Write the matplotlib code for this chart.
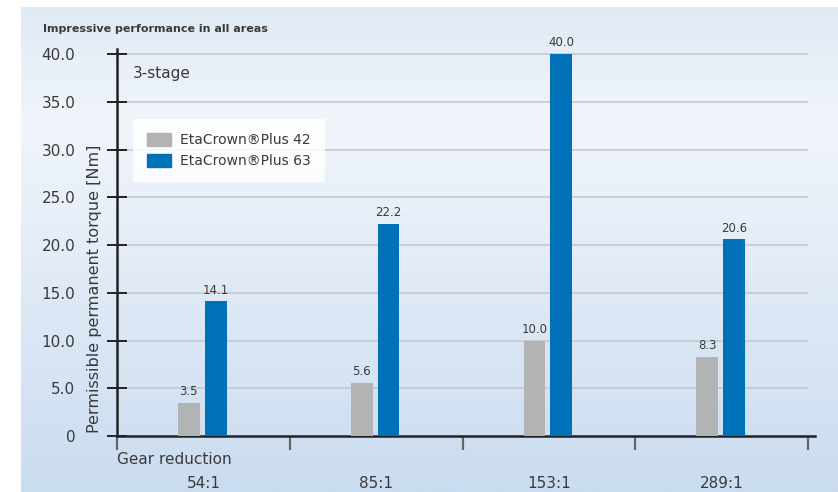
import numpy as np
import matplotlib
matplotlib.use("Agg")
import matplotlib.pyplot as plt
from matplotlib.colors import LinearSegmentedColormap
from matplotlib.patches import Patch

ratios = ["54:1", "85:1", "153:1", "289:1"]
plus42 = [3.5, 5.6, 10.0, 8.3]
plus63 = [14.1, 22.2, 40.0, 20.6]
series_names = ["EtaCrown\u00aePlus 42", "EtaCrown\u00aePlus 63"]
y_ticks = [0, 5, 10, 15, 20, 25, 30, 35, 40]

GRAY = "#b2b3b5"
BLUE = "#0071b9"
TEXT = "#3a3a3a"

plt.rcParams["font.family"] = ["DejaVu Sans"]

fig = plt.figure(figsize=(8.38, 4.92), dpi=100)

# soft blue panel behind the chart
bg = fig.add_axes([21 / 838, 0, 1 - 21 / 838, 1 - 7 / 492], zorder=-10)
grad_cmap = LinearSegmentedColormap.from_list(
    "panel", [(0.0, "#e0eaf5"), (0.24, "#f1f5fb"), (1.0, "#cadcf0")])
bg.imshow(np.linspace(0, 1, 256).reshape(-1, 1), aspect="auto",
          cmap=grad_cmap, extent=[0, 1, 0, 1], origin="upper")
bg.set_axis_off()

ax = fig.add_axes([117 / 838, 1 - 436 / 492, 698 / 838, (436 - 49) / 492])
ax.patch.set_alpha(0)

x = np.arange(len(ratios)) + 0.5
w = 0.126
ax.bar(x - 0.084, plus42, w, color=GRAY, zorder=3)
ax.bar(x + 0.071, plus63, w, color=BLUE, zorder=3)

for xi, v in zip(x - 0.084, plus42):
    ax.text(xi, v + 0.5, f"{v:.1f}", ha="center", va="bottom",
            fontsize=8.5, color=TEXT, zorder=4)
for xi, v in zip(x + 0.071, plus63):
    ax.text(xi, v + 0.5, f"{v:.1f}", ha="center", va="bottom",
            fontsize=8.5, color=TEXT, zorder=4)

ax.hlines(y_ticks[1:], 0, 4.0, color="#c4c6c9", lw=1.1, zorder=1)

ax.set_xlim(0, 4.04)
ax.set_ylim(0, 40.55)

for s in ["top", "right"]:
    ax.spines[s].set_visible(False)
for s in ["left", "bottom"]:
    ax.spines[s].set_color("#222222")
    ax.spines[s].set_linewidth(1.8)

ax.set_yticks(y_ticks)
ax.set_yticklabels(["0"] + [f"{t:.1f}" for t in y_ticks[1:]])
ax.tick_params(axis="y", direction="inout", length=14, width=1.4,
               color="#222222", labelsize=11, labelcolor=TEXT, pad=23)

ax.set_xticks(range(5))
ax.set_xticklabels([])
ax.tick_params(axis="x", which="major", direction="out", length=10,
               width=1.6, color="#666666")
ax.set_xticks(x, minor=True)
ax.set_xticklabels(ratios, minor=True)
ax.tick_params(axis="x", which="minor", length=0, labelsize=11,
               labelcolor=TEXT, pad=29)

ax.set_ylabel("Permissible permanent torque [Nm]", fontsize=11.5,
              color=TEXT)
ax.yaxis.set_label_coords(-0.022, 0.38)

ax.text(0, -2.5, "Gear reduction", fontsize=11, color=TEXT,
        ha="left", va="center")
ax.text(0.09, 38.0, "3-stage", fontsize=11, color=TEXT,
        ha="left", va="center")

fig.text(43 / 838, 1 - 29 / 492, "Impressive performance in all areas",
         fontsize=8, fontweight="bold", color=TEXT, ha="left", va="center")

handles = [Patch(color=GRAY), Patch(color=BLUE)]
leg = ax.legend(handles, series_names, loc="upper left",
                bbox_to_anchor=(16 / 698, (436 - 119) / 387),
                borderaxespad=0, fontsize=10, frameon=True, fancybox=False,
                handlelength=1.7, handleheight=1.1, handletextpad=0.7,
                labelspacing=0.45, borderpad=1.0, labelcolor=TEXT)
leg.get_frame().set_facecolor("white")
leg.get_frame().set_alpha(0.85)
leg.get_frame().set_linewidth(0)
leg.set_zorder(5)

fig.savefig("out.png", dpi=100)
